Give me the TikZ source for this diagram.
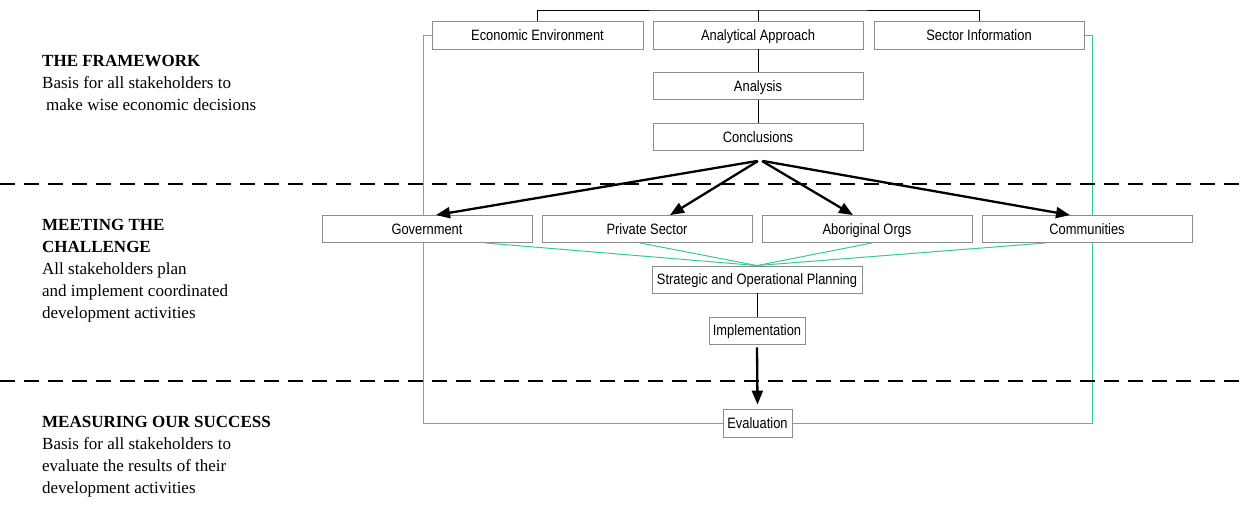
\documentclass[tikz,border=0pt]{standalone}
\usepackage{fontspec}
\setmainfont{Liberation Serif}
\newfontfamily\boxfont[FakeStretch=0.86]{Liberation Sans}
\usetikzlibrary{positioning,calc,arrows.meta,backgrounds}
\definecolor{framegreen}{RGB}{50,205,150}
\definecolor{boxgray}{RGB}{140,140,140}

\begin{document}
\begin{tikzpicture}[x=1pt, y=-1pt,
    box/.style={draw=boxgray, fill=white, line width=0.9pt, inner sep=0pt,
        minimum width=210pt, minimum height=27pt, text height=11pt, text depth=1pt,
        font=\boxfont\fontsize{15}{18}\selectfont},
    side/.style={anchor=north west, inner sep=0pt, align=left, font=\fontsize{17}{22}\selectfont},
    fan/.style={-{Triangle[length=14pt,width=11pt]}, line width=2.3pt},
    link/.style={line width=1pt},
    spread/.style={framegreen, line width=1pt},
    divider/.style={dash pattern=on 15pt off 9pt, line width=2.2pt}]
    \useasboundingbox (0,0) rectangle (1244,504);

    % left column
    \node [side] (framework) at (42,55) {\textbf{THE FRAMEWORK}\\Basis for all stakeholders to\\\hspace*{4pt}make wise economic decisions};
    \node [side] (challenge) at (42,219) {\textbf{MEETING THE}\\\textbf{CHALLENGE}\\All stakeholders plan\\and implement coordinated\\development activities};
    \node [side] (success) at (42,416) {\textbf{MEASURING OUR SUCCESS}\\Basis for all stakeholders to\\evaluate the results of their\\development activities};

    % separators
    \draw [divider] (0,184) -- (1244,184);
    \draw [divider] (0,381) -- (1244,381);

    % framework boxes
    \node [box, minimum width=211pt, minimum height=28pt] (econ) at (537.5,35) {Economic Environment};
    \node [box, minimum height=28pt] (approach) at (758,35) {Analytical Approach};
    \node [box, minimum height=28pt] (sector) at (979,35) {Sector Information};
    \node [box] (analysis) at (758,86) {Analysis};
    \node [box] (concl) at (758,137) {Conclusions};

    % stakeholders
    \node [box] (gov) at (427,229) {Government};
    \node [box] (priv) at (647,229) {Private Sector};
    \node [box] (abor) at (867,229) {Aboriginal Orgs};
    \node [box] (comm) at (1087,229) {Communities};

    \node [box] (plan) at (757,279.5) {Strategic and Operational Planning};
    \node [box, minimum width=96pt] (impl) at (757,330.5) {Implementation};
    \node [box, minimum width=69pt, minimum height=28pt] (eval) at (757.5,423) {Evaluation};

    \coordinate (top) at (758,10);
    \coordinate (fan) at (760,161);

    \begin{pgfonlayer}{background}
        \draw [spread] (econ.west) -- ++(-8,0) |- (eval.west);
        \draw [spread] (eval.east) -| ([xshift=8pt]sector.east) -- (sector.east);
    \end{pgfonlayer}

    \draw [link] (econ.north) |- (top) -| (sector.north);
    \draw [link] (approach.north) -- (top);
    \draw [link] (approach.south) -- (analysis.north);
    \draw [link] (analysis.south) -- (concl.north);

    \draw [fan] ([xshift=-3pt]fan) -- ([xshift=9pt]gov.north);
    \draw [fan] ([xshift=-2pt]fan) -- ([xshift=23pt]priv.north);
    \draw [fan] ([xshift=2pt]fan) -- ([xshift=-14pt]abor.north);
    \draw [fan] ([xshift=3pt]fan) -- ([xshift=-17pt]comm.north);

    \draw [spread] ([xshift=58pt]gov.south) -- (plan.north);
    \draw [spread] ([xshift=-7pt]priv.south) -- (plan.north);
    \draw [spread] ([xshift=5pt]abor.south) -- (plan.north);
    \draw [spread] ([xshift=-41pt]comm.south) -- (plan.north);

    \draw [link] (plan.south) -- (impl.north);
    \draw [fan] ([yshift=-3pt]impl.south) -- ([yshift=4pt]eval.north);
\end{tikzpicture}
\end{document}
